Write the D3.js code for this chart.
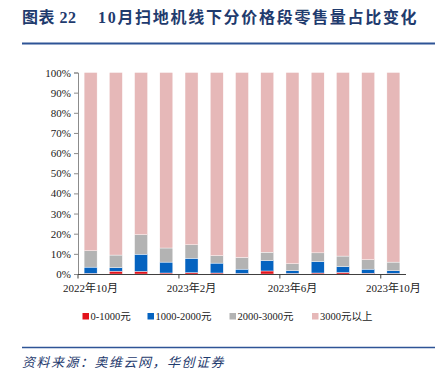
<!DOCTYPE html>
<html>
<head>
<meta charset="utf-8">
<script src="https://cdn.jsdelivr.net/npm/d3@7"></script>
<style>
  body { margin: 0; background: #fff; }
  svg { display: block; }
  text { font-family: "Liberation Serif", "Times New Roman", "Noto Sans CJK SC", serif; }
</style>
</head>
<body>
<svg></svg>
<script>
var width = 442,
    height = 371;

// data (percent of retail volume)
var months = ["2022年10月", "2022年11月", "2022年12月", "2023年1月", "2023年2月", "2023年3月",
    "2023年4月", "2023年5月", "2023年6月", "2023年7月", "2023年8月", "2023年9月", "2023年10月"];
var series = ["0-1000元", "1000-2000元", "2000-3000元", "3000元以上"];
var low = [0.3, 1.4, 1.3, 0.5, 0.7, 0.5, 0.3, 1.5, 0.3, 0.5, 0.8, 0.4, 0.3];
var mid = [3.1, 1.8, 8.5, 5.4, 7.1, 4.9, 2.1, 5.2, 1.4, 5.7, 2.9, 2.0, 1.3];
var high = [8.1, 6.2, 9.7, 7.0, 6.7, 3.7, 5.8, 4.1, 3.4, 4.3, 5.2, 4.7, 4.3];
var top3000 = [88.3, 90.6, 80.5, 87.1, 85.5, 90.9, 91.8, 89.2, 94.9, 89.5, 91.1, 92.9, 94.1];
var yTicks = [0, 10, 20, 30, 40, 50, 60, 70, 80, 90, 100];
var colors = ["#e3121b", "#0563c0", "#b3b3b3", "#e6b8b8"];

var rows = months.map(function(m, i) {
    return { month: m, s0: low[i], s1: mid[i], s2: high[i], s3: top3000[i] };
});
var stack = d3.stack().keys(["s0", "s1", "s2", "s3"])
    .offset(d3.stackOffsetExpand);
var layers = stack(rows);

var svg = d3.select("svg")
    .attr("width", width)
    .attr("height", height);

// title
var title = svg.append("text")
    .attr("x", 22)
    .attr("y", 23)
    .attr("fill", "#1f3b6e")
    .attr("font-size", 16)
    .attr("font-weight", "bold");
title.append("tspan").attr("letter-spacing", 0.5).text("图表 22");
title.append("tspan").attr("x", 98).attr("letter-spacing", 1.7)
    .text("10月扫地机线下分价格段零售量占比变化");

svg.append("line")
    .attr("x1", 22).attr("x2", 435)
    .attr("y1", 43.5).attr("y2", 43.5)
    .attr("stroke", "#2e5496")
    .attr("stroke-width", 2);

var x = d3.scaleBand()
    .domain(months)
    .range([78, 406])
    .paddingInner(0.485)
    .paddingOuter(0.2425);

var y = d3.scaleLinear()
    .domain([0, 1])
    .range([274, 72.5]);

// bars
svg.append("g").selectAll("g")
    .data(layers)
    .enter()
    .append("g")
    .attr("fill", function(d, i) { return colors[i]; })
    .selectAll("rect")
    .data(function(d) { return d; })
    .enter()
    .append("rect")
    .attr("x", function(d) { return x(d.data.month); })
    .attr("width", x.bandwidth())
    .attr("y", function(d) { return y(d[1]); })
    .attr("height", function(d) { return y(d[0]) - y(d[1]); })
    .attr("stroke", "#fff")
    .attr("stroke-width", 0.4);

// y axis
var yAxis = svg.append("g")
    .attr("transform", "translate(78,0)")
    .call(d3.axisLeft(y)
        .tickValues(yTicks.map(function(d) { return d / 100; }))
        .tickFormat(function(d) { return Math.round(d * 100) + "%"; })
        .tickSize(4)
        .tickPadding(3));
yAxis.select(".domain").attr("stroke", "#8c8c8c");
yAxis.selectAll(".tick line").attr("stroke", "#8c8c8c");
yAxis.selectAll("text")
    .attr("font-size", 11)
    .attr("fill", "#222")
    .attr("font-family", "Liberation Serif, serif");

// x axis
var shown = [0, 4, 8, 12];
var xg = svg.append("g");
xg.append("line")
    .attr("x1", 78).attr("x2", 406)
    .attr("y1", 274.5).attr("y2", 274.5)
    .attr("stroke", "#404040")
    .attr("stroke-width", 1.2);
xg.selectAll(".xt")
    .data(shown)
    .enter()
    .append("line")
    .attr("x1", function(i) { return x(months[i]) - x.step() * x.paddingInner() / 2; })
    .attr("x2", function(i) { return x(months[i]) - x.step() * x.paddingInner() / 2; })
    .attr("y1", 274.5).attr("y2", 278.5)
    .attr("stroke", "#404040");
xg.selectAll(".xl")
    .data(shown)
    .enter()
    .append("text")
    .attr("x", function(i) { return x(months[i]) + x.bandwidth() / 2; })
    .attr("y", 292)
    .attr("text-anchor", "middle")
    .attr("font-size", 11)
    .attr("fill", "#222")
    .text(function(i) { return months[i]; });

// legend
var legendX = [82.5, 147.5, 229.5, 312];
var legend = svg.append("g").selectAll("g")
    .data(series)
    .enter()
    .append("g")
    .attr("transform", function(d, i) { return "translate(" + legendX[i] + ",313)"; });
legend.append("rect")
    .attr("width", 6.5).attr("height", 6.5)
    .attr("fill", function(d, i) { return colors[i]; });
legend.append("text")
    .attr("x", 8)
    .attr("y", 7)
    .attr("font-size", 10.5)
    .attr("fill", "#222")
    .text(function(d) { return d; });

// footer
svg.append("line")
    .attr("x1", 22).attr("x2", 435)
    .attr("y1", 347.5).attr("y2", 347.5)
    .attr("stroke", "#2e5496")
    .attr("stroke-width", 1.5);
svg.append("text")
    .attr("x", 22)
    .attr("y", 367)
    .attr("fill", "#1f3b6e")
    .attr("font-size", 13)
    .attr("font-style", "italic")
    .attr("letter-spacing", 1.5)
    .text("资料来源：奥维云网，华创证券");
</script>
</body>
</html>
